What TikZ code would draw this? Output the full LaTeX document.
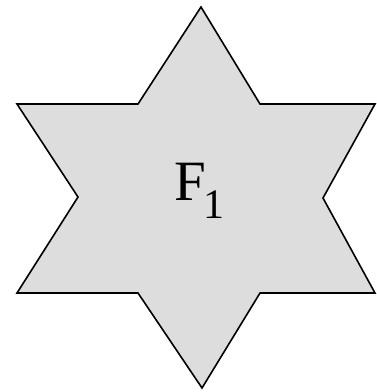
\documentclass[tikz,border=0pt]{standalone}
\usepackage{fontspec}
\setmainfont{Liberation Serif}
\usepackage{xcolor}
\definecolor{gris}{RGB}{221, 221, 221}
\usetikzlibrary{positioning}

\begin{document}
\begin{tikzpicture}[
  x=1pt, y=-1pt,
  estrella/.style={draw=black, fill=gris, line width=1.6pt, line join=miter},
  etiq/.style={anchor=base west, inner sep=0pt, font=\fontsize{57}{60}\selectfont}
]
  \useasboundingbox (0,0) rectangle (376,392);
  \draw[estrella] (201,7) -- (260,104) -- (375,104) -- (323,198) -- (375,293)
    -- (260,293) -- (202,388) -- (138,293) -- (17,293) -- (78,197)
    -- (17,104) -- (138,104) -- cycle;
  \node[etiq] (f1) at (174,200) {F\hspace{-2pt}\raisebox{-18pt}{\fontsize{42}{44}\selectfont 1}};
\end{tikzpicture}
\end{document}
